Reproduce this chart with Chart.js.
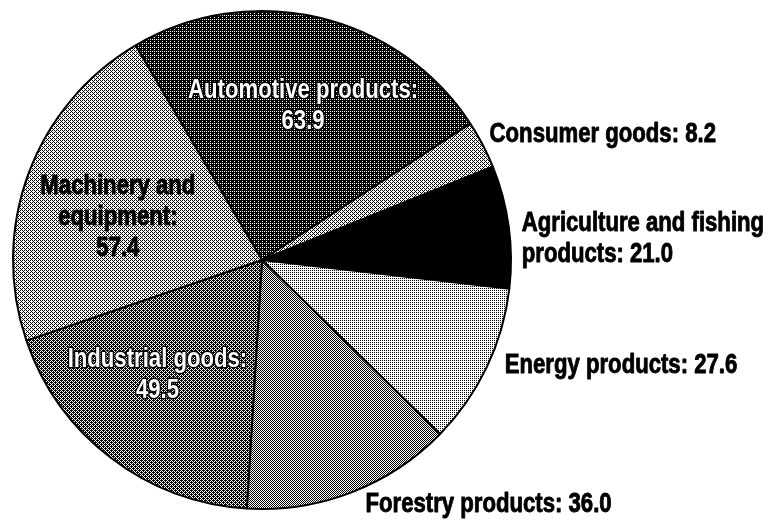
<!DOCTYPE html>
<html>
<head>
<meta charset="utf-8">
<script src="https://cdn.jsdelivr.net/npm/chart.js@4.4.1/dist/chart.umd.min.js"></script>
<style>
  html, body { margin: 0; padding: 0; background: #ffffff; }
  #wrap { width: 776px; height: 528px; position: relative; }
</style>
</head>
<body>
<div id="wrap"><canvas id="c" width="776" height="528"></canvas></div>
<script>
// ---- data ----
const categories = [
  'Automotive products',
  'Consumer goods',
  'Agriculture and fishing\nproducts',
  'Energy products',
  'Forestry products',
  'Industrial goods',
  'Machinery and\nequipment'
];
const values = [63.9, 8.2, 21.0, 27.6, 36.0, 49.5, 57.4];

// ---- styling / layout (not data) ----
// halftone darkness out of 16 (ordered dither)
const shadeLevels = [13, 6, 16, 4, 8, 10, 6];
// label placement relative to each slice: inside (centred) or outside (left aligned)
const labelLayout = [
  { inside: true,  k: 0.62, dx: 6,   dy: -6,  valueNewLine: true, style: 'white' },
  { inside: false, k: 1.0,  dx: 7,   dy: -3,  valueNewLine: false, style: 'black' },
  { inside: false, k: 1.0,  dx: 13,  dy: 4,   valueNewLine: false, style: 'black' },
  { inside: false, k: 1.0,  dx: 18,  dy: 6,   valueNewLine: false, style: 'black' },
  { inside: false, k: 1.0,  dx: 14,  dy: 20,  valueNewLine: false, style: 'black' },
  { inside: true,  k: 0.62, dx: -11, dy: -10, valueNewLine: true, style: 'white' },
  { inside: true,  k: 0.60, dx: -4,  dy: 7.5, valueNewLine: true, style: 'black' }
];
const FONT_SIZE = 27;
const LINE_H = 31;
const X_SCALE = 0.82; // condensed look
const FONT = 'bold ' + FONT_SIZE + 'px "Liberation Sans", Arial, sans-serif';

const bayer = [
  [0, 8, 2, 10],
  [12, 4, 14, 6],
  [3, 11, 1, 9],
  [15, 7, 13, 5]
];
function makePattern(level) {
  const t = document.createElement('canvas');
  t.width = 4; t.height = 4;
  const g = t.getContext('2d');
  g.fillStyle = '#ffffff';
  g.fillRect(0, 0, 4, 4);
  g.fillStyle = '#000000';
  for (let y = 0; y < 4; y++) {
    for (let x = 0; x < 4; x++) {
      if (bayer[y][x] < level) g.fillRect(x, y, 1, 1);
    }
  }
  return document.createElement('canvas').getContext('2d').createPattern(t, 'repeat');
}
const fills = shadeLevels.map(makePattern);

function labelLines(i) {
  const v = values[i].toFixed(1);
  const parts = categories[i].split('\n');
  const lay = labelLayout[i];
  if (lay.valueNewLine) {
    parts[parts.length - 1] += ':';
    parts.push(v);
  } else {
    parts[parts.length - 1] += ': ' + v;
  }
  return parts;
}

const labelPlugin = {
  id: 'sliceLabels',
  afterDatasetsDraw(chart) {
    const ctx = chart.ctx;
    const meta = chart.getDatasetMeta(0);
    meta.data.forEach((arc, i) => {
      const p = arc.getProps(['x', 'y', 'startAngle', 'endAngle', 'outerRadius'], true);
      const mid = (p.startAngle + p.endAngle) / 2;
      const lay = labelLayout[i];
      const r = p.outerRadius * lay.k;
      const ax = p.x + Math.cos(mid) * r + lay.dx;
      const ay = p.y + Math.sin(mid) * r + lay.dy;
      const lines = labelLines(i);
      const y0 = lay.inside
        ? ay - (lines.length - 1) * LINE_H / 2 + FONT_SIZE * 0.36
        : ay;
      lines.forEach((ln, j) => {
        const y = y0 + j * LINE_H;
        ctx.save();
        ctx.font = FONT;
        ctx.textBaseline = 'alphabetic';
        ctx.textAlign = lay.inside ? 'center' : 'left';
        ctx.translate(ax, y);
        ctx.scale(X_SCALE, 1);
        ctx.lineJoin = 'round';
        if (lay.style === 'white') {
          ctx.lineWidth = 3;
          ctx.strokeStyle = '#000000';
          ctx.strokeText(ln, 0, 0);
          ctx.fillStyle = '#ffffff';
          ctx.fillText(ln, 0, 0);
        } else {
          ctx.lineWidth = 0.9;
          ctx.strokeStyle = '#000000';
          ctx.strokeText(ln, 0, 0);
          ctx.fillStyle = '#000000';
          ctx.fillText(ln, 0, 0);
        }
        ctx.restore();
      });
    });
  }
};

new Chart(document.getElementById('c'), {
  type: 'pie',
  data: {
    labels: categories,
    datasets: [{
      data: values,
      backgroundColor: fills,
      borderColor: '#000000',
      borderWidth: 2
    }]
  },
  options: {
    responsive: false,
    animation: false,
    events: [],
    rotation: -30.5,
    radius: 249,
    layout: { padding: { left: 12, right: 264, top: 10, bottom: 18 } },
    plugins: {
      legend: { display: false },
      tooltip: { enabled: false }
    }
  },
  plugins: [labelPlugin]
});
</script>
</body>
</html>
